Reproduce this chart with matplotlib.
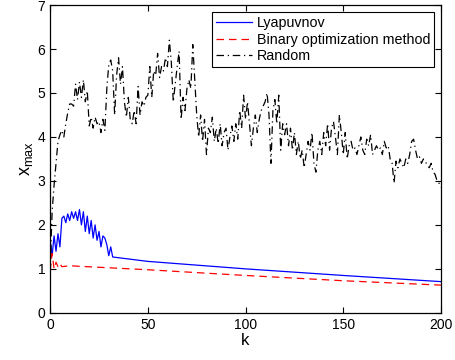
import numpy as np
import matplotlib
matplotlib.use('Agg')
import matplotlib.pyplot as plt

plt.rcParams['font.family'] = ['Liberation Sans', 'DejaVu Sans']
plt.rcParams['mathtext.fontset'] = 'custom'
plt.rcParams['mathtext.rm'] = 'Liberation Sans'
plt.rcParams['mathtext.it'] = 'Liberation Sans'

# Lyapunov curve: oscillating start, then almost straight decay
lyap_k = list(range(0, 33)) + [50, 100, 150, 200]
lyap_x = [1.65, 1.3, 1.75, 1.4, 1.8, 1.5, 2.15, 2.2, 2.05, 2.25, 2.1,
          2.3, 2.15, 2.3, 2.1, 2.35, 2.0, 2.3, 1.85, 2.2, 1.8, 2.1,
          1.7, 2.0, 1.65, 1.85, 1.5, 1.75, 1.7, 1.55, 1.3, 1.5, 1.27,
          1.17, 1.0, 0.85, 0.71]

# binary optimization method
bin_k = [0, 1, 2, 3, 4, 5, 6, 10, 50, 100, 150, 200]
bin_x = [0.95, 1.35, 1.0, 1.15, 1.05, 1.12, 1.05, 1.07, 0.98, 0.85, 0.73, 0.63]

# random selection, k = 0..200
rand_x = ([1.0, 2.3, 2.9, 3.4, 3.9, 4.05, 4.15, 4.0, 4.3, 4.55, 4.75, 4.75, 4.7]
          + [5.2, 4.85, 5.25, 4.9, 5.3, 4.8, 5.05]
          + [4.25, 4.45, 4.2, 4.45, 4.3, 4.35, 4.1, 4.4, 4.15]
          + [5.1, 5.65, 5.75, 5.5, 4.5, 5.4, 5.8, 5.2, 5.6, 4.8, 4.45]
          + [4.9, 4.4, 4.3, 4.6, 4.3, 5.15, 4.5, 4.8, 4.7, 4.9]
          + [4.95, 5.6, 4.9, 5.5, 5.4, 5.9, 5.35, 5.6, 5.5, 5.8]
          + [5.6, 6.2, 5.7, 4.8, 5.2, 5.6, 5.95, 4.4, 4.9, 4.6]
          + [5.1, 5.3, 5.1, 6.1, 5.3, 4.5, 4.0, 4.5, 3.9, 4.4]
          + [3.6, 4.2, 4.1, 4.45, 3.9, 4.2, 3.85, 4.3, 3.8, 4.1]
          + [4.2, 3.7, 4.0, 4.25, 3.9, 4.3, 3.95, 4.6, 4.2, 4.95]
          + [4.4, 4.8, 4.3, 3.8, 4.2, 4.5, 4.1, 4.4, 4.6, 4.7]
          + [4.8, 5.0, 4.5, 3.4, 4.6, 4.85, 4.3, 4.95, 3.7, 4.3]
          + [4.05, 4.3, 3.8, 4.2, 3.7, 4.1, 3.6, 3.9, 3.5, 3.7]
          + [3.3, 3.6, 3.9, 3.7, 4.1, 3.4, 3.2, 3.7, 3.9, 3.6]
          + [4.1, 3.8, 4.3, 3.7, 4.2, 4.35, 4.0, 3.6, 4.5, 4.1]
          + [3.6, 4.1, 3.5, 3.8, 3.9, 3.7, 3.75, 3.6, 3.8, 4.0]
          + [3.7, 3.6, 3.95, 3.8, 4.05, 3.6, 3.7, 3.8, 3.7, 3.75]
          + [3.6, 3.9, 3.75, 3.8, 3.5, 3.4, 2.95, 3.45, 3.3, 3.5]
          + [3.4, 3.3, 3.5, 3.4, 3.6, 3.9, 3.95, 3.7, 3.5, 3.55]
          + [3.4, 3.5, 3.45, 3.35, 3.3, 3.4, 3.2, 3.15, 3.0, 2.95, 2.85])
rand_k = np.arange(len(rand_x))

fig = plt.figure(figsize=(4.56, 3.6), dpi=100)
ax = fig.add_axes([0.110, 0.131, 0.857, 0.855])

ax.plot(lyap_k, lyap_x, color='blue', lw=0.9, label='Lyapuvnov')
ax.plot(bin_k, bin_x, color='red', lw=0.9, ls=(0, (6, 4)), label='Binary optimization method')
ax.plot(rand_k, rand_x, color='black', lw=0.9, ls=(0, (6, 3, 1, 3)), label='Random')

ax.set_xlim(0, 200)
ax.set_ylim(0, 7)
ax.set_xticks([0, 50, 100, 150, 200])
ax.set_yticks(range(8))
ax.tick_params(direction='in', labelsize=10, top=True, right=True, length=4)
for s in ax.spines.values():
    s.set_linewidth(0.9)
ax.set_xlabel('k', fontsize=12, labelpad=1)
ax.set_ylabel('x$_{\\rm max}$', fontsize=13, labelpad=2)

leg = ax.legend(loc='upper right', fontsize=10.3, fancybox=False, edgecolor='black',
                framealpha=1, borderpad=0.25, labelspacing=0.2, handlelength=2.5,
                handletextpad=0.35, borderaxespad=0.5)
leg.get_frame().set_linewidth(0.8)

fig.savefig('out.png', dpi=100)
